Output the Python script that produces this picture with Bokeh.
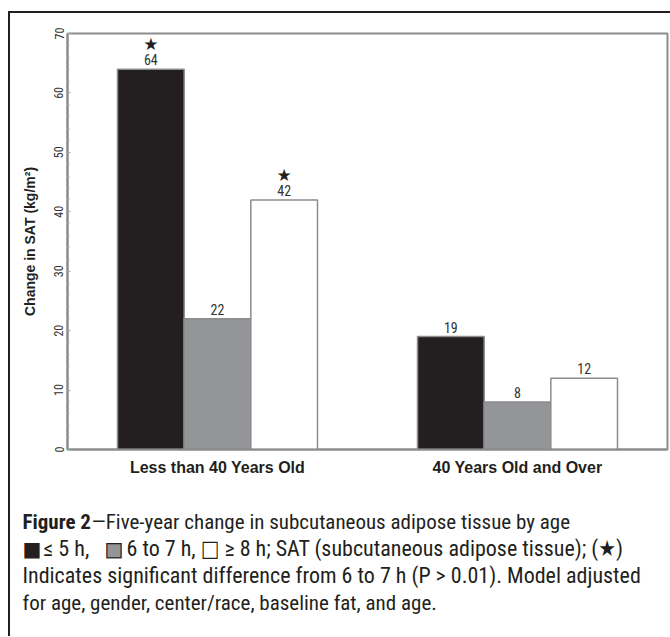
from bokeh.plotting import figure
from bokeh.layouts import column
from bokeh.models import FactorRange, Range1d, Label, ColumnDataSource, FixedTicker
from bokeh.transform import dodge
from bokeh.core.properties import value
from bokeh.embed import file_html
from bokeh.resources import INLINE

# ---- data ----
groups = ["Less than 40 Years Old", "40 Years Old and Over"]
sleep_le5 = [64, 19]      # <= 5 h
sleep_6to7 = [22, 8]      # 6 to 7 h
sleep_ge8 = [42, 12]      # >= 8 h
signif_le5 = [True, False]
signif_ge8 = [True, False]
y_ticks = [0, 10, 20, 30, 40, 50, 60, 70]

NARROW = "'Roboto Condensed', 'DejaVu Sans Condensed', 'Liberation Sans Narrow', 'Liberation Sans'"
BOLD = "Liberation Sans"
DARK = "#231f20"

# page origin of the figures (inside an 8px/11px offset + 2px frame border)
OX, OY = 10, 13
CHART_H = 477
CAP_H = 146

p = figure(x_range=FactorRange(*groups), y_range=Range1d(0, 70),
           width=660, height=CHART_H, output_backend="svg", toolbar_location=None,
           min_border_left=67 - OX, min_border_right=3, min_border_top=33 - OY,
           min_border_bottom=CHART_H - (449 - OY), title=None, frame_align=False)
p.grid.visible = False
p.outline_line_color = "#8c8c8c"
p.outline_line_width = 2

bw = 2 / 9
series = [(sleep_le5, -bw, DARK), (sleep_6to7, 0.0, "#939598"), (sleep_ge8, bw, "white")]
for vals, off, col in series:
    src = ColumnDataSource(dict(g=groups, v=vals, lbl=[str(v) for v in vals]))
    p.vbar(x=dodge("g", off, range=p.x_range), top="v", bottom=0, width=bw, source=src,
           fill_color=col, line_color="#8c8c8c", line_width=1.5)
    p.text(x=dodge("g", off, range=p.x_range), y="v", text="lbl", source=src,
           text_align="center", text_baseline="bottom", y_offset=-4,
           text_font=value(NARROW), text_font_size="14px", text_color="#333333")

for vals, sig, off in [(sleep_le5, signif_le5, -bw), (sleep_ge8, signif_ge8, bw)]:
    gs = [g for g, s in zip(groups, sig) if s]
    vs = [v for v, s in zip(vals, sig) if s]
    src = ColumnDataSource(dict(g=gs, v=vs, t=["★"] * len(gs)))
    p.text(x=dodge("g", off, range=p.x_range), y="v", text="t", source=src,
           text_align="center", text_baseline="middle", y_offset=-25,
           text_font=value("DejaVu Sans"), text_font_size="17px", text_color=DARK)

# y axis
ya = p.yaxis[0]
ya.ticker = FixedTicker(ticks=y_ticks, minor_ticks=list(range(0, 71, 2)))
ya.major_label_orientation = "vertical"
ya.major_label_text_font = NARROW
ya.major_label_text_font_size = "12px"
ya.major_label_text_color = "#333333"
ya.major_label_standoff = 4
ya.major_tick_in = 3
ya.major_tick_out = 0
ya.minor_tick_in = 2
ya.minor_tick_out = 0
ya.major_tick_line_color = "#aaaaaa"
ya.minor_tick_line_color = "#aaaaaa"
ya.axis_line_color = "#8c8c8c"
ya.axis_line_width = 2
ya.axis_label = "Change in SAT (kg/m²)"
ya.axis_label_text_font = BOLD
ya.axis_label_text_font_style = "bold"
ya.axis_label_text_font_size = "14px"
ya.axis_label_text_color = DARK
ya.axis_label_standoff = 14

xa = p.xaxis[0]
xa.major_label_text_font = BOLD
xa.major_label_text_font_style = "bold"
xa.major_label_text_font_size = "16px"
xa.major_label_text_color = DARK
xa.major_label_standoff = 3
xa.major_tick_line_color = None
xa.axis_line_color = "#8c8c8c"
xa.axis_line_width = 2

# ---- caption figure ----
cap = figure(width=660, height=CAP_H, x_range=(0, 1), y_range=(0, 1),
             output_backend="svg", toolbar_location=None, min_border=0,
             min_border_left=0, min_border_right=0, min_border_top=0, min_border_bottom=0,
             x_axis_location=None, y_axis_location=None, title=None, frame_align=False)
cap.grid.visible = False
cap.outline_line_color = None
CAP_TOP = OY + CHART_H  # page y of the caption figure's top
CAP_BOTTOM = CAP_TOP + CAP_H

def lab(x, y, t, size, bold=False, color=DARK, font=NARROW):
    cap.add_layout(Label(x=x - OX, y=CAP_BOTTOM - y, x_units="screen", y_units="screen", text=t,
                         text_font=font, text_font_size=f"{size}px",
                         text_font_style="bold" if bold else "normal",
                         text_color=color, text_baseline="middle"))

lab(22, 521, "Figure 2", 21, bold=True)
lab(91, 521, "—Five-year change in subcutaneous adipose tissue by age", 21)
lab(22, 548, "■", 20, font="DejaVu Sans")
lab(43, 548, "≤ 5 h,", 22)
lab(104, 548, "■", 20, font="DejaVu Sans", color="#939598")
lab(104, 548, "□", 20, font="DejaVu Sans", color=DARK)
lab(126, 548, "6 to 7 h, □ ≥ 8 h; SAT (subcutaneous adipose tissue); (★)", 22)
lab(22, 575, "Indicates significant difference from 6 to 7 h (P > 0.01). Model adjusted", 22)
lab(22, 602, "for age, gender, center/race, baseline fat, and age.", 21)

root = column(p, cap, spacing=0,
              styles={"border-left": "2px solid #231f20", "border-top": "2px solid #231f20",
                      "margin-left": "8px", "margin-top": "11px"})

open("out.html", "w").write(file_html(root, INLINE))
